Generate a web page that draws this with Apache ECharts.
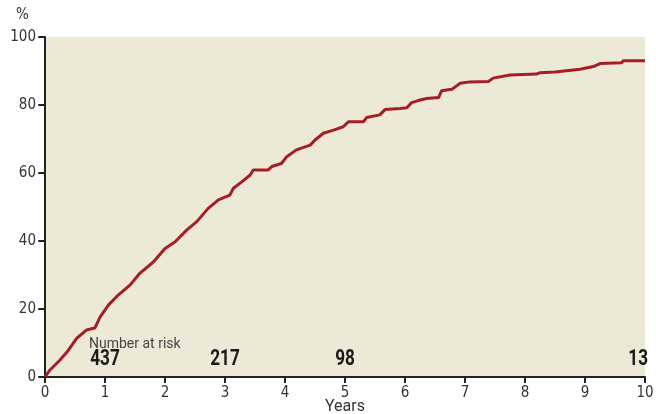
<!DOCTYPE html>
<html>
<head>
<meta charset="utf-8">
<script src="https://cdn.jsdelivr.net/npm/echarts@6/dist/echarts.min.js"></script>
<style>
  html, body { margin: 0; padding: 0; background: #fff; }
  #chart { width: 656px; height: 414px; }
</style>
</head>
<body>
<div id="chart"></div>
<script>
// curve: years, cumulative %
var years = [0, 0.08, 0.25, 0.37, 0.53, 0.69, 0.83, 0.92, 1.06, 1.22, 1.42, 1.58, 1.81, 2.0, 2.17, 2.36, 2.53,
    2.72, 2.89, 3.08, 3.14, 3.28, 3.42, 3.47, 3.72, 3.78, 3.94, 4.03, 4.19, 4.42, 4.5, 4.64, 4.81, 4.97, 5.06,
    5.31, 5.36, 5.58, 5.67, 5.92, 6.03, 6.11, 6.22, 6.36, 6.56, 6.61, 6.78, 6.92, 7.08, 7.39, 7.47, 7.75,
    8.19, 8.25, 8.5, 8.53, 8.92, 9.14, 9.25, 9.61, 9.64, 10];
var percent = [0, 2, 5, 7.4, 11.4, 13.8, 14.4, 17.7, 21.2, 24.1, 27.1, 30.5, 33.9, 37.8, 39.8, 43.2, 45.7,
    49.6, 52.1, 53.5, 55.5, 57.4, 59.4, 60.9, 60.9, 61.9, 62.8, 64.8, 66.8, 68.2, 69.7, 71.7, 72.6, 73.6, 75.1,
    75.1, 76.3, 77.1, 78.7, 79, 79.2, 80.7, 81.3, 81.9, 82.2, 84.2, 84.6, 86.4, 86.8, 86.9, 87.9, 88.8,
    89.1, 89.5, 89.7, 90.1, 90.5, 91.3, 92.2, 92.4, 93, 93];

// number at risk
var riskYears = [1, 3, 5, 10];
var riskCounts = [437, 217, 98, 13];
var riskLevel = 2;

var curve = years.map(function (t, i) { return [t, percent[i]]; });

var tickFont = "'Liberation Sans Narrow', 'DejaVu Sans Condensed', sans-serif";

var myChart = echarts.init(document.getElementById('chart'));
var option = {
    animation: false,
    grid: {
        left: 45,
        right: 11,
        top: 37,
        bottom: 37,
        outerBoundsMode: 'none',
        show: true,
        backgroundColor: '#ece9d7',
        borderWidth: 0
    },
    xAxis: {
        type: 'value',
        min: 0,
        max: 10,
        interval: 1,
        name: 'Years',
        nameLocation: 'middle',
        nameGap: 22,
        nameMoveOverlap: false,
        nameTextStyle: { fontSize: 16, color: '#333', fontFamily: 'Roboto, sans-serif' },
        axisLine: { lineStyle: { color: '#222', width: 2 } },
        axisTick: { show: true, length: 6, lineStyle: { color: '#222', width: 2 } },
        axisLabel: { fontSize: 15, color: '#333', margin: 9, fontFamily: tickFont },
        splitLine: { show: false }
    },
    yAxis: {
        type: 'value',
        min: 0,
        max: 100,
        interval: 20,
        axisLine: { show: true, lineStyle: { color: '#222', width: 2 } },
        axisTick: { show: true, length: 6, lineStyle: { color: '#222', width: 2 } },
        axisLabel: { fontSize: 15, color: '#333', margin: 9, fontFamily: tickFont },
        splitLine: { show: false }
    },
    graphic: [
        {
            type: 'text',
            left: 16,
            top: 8,
            style: { text: '%', fontSize: 15, fill: '#333', fontFamily: tickFont }
        },
        {
            type: 'text',
            left: 89,
            top: 337,
            style: { text: 'Number at risk', fontSize: 14, fill: '#444', fontFamily: 'Roboto, sans-serif' }
        }
    ],
    series: [
        {
            type: 'line',
            data: curve,
            showSymbol: false,
            symbol: 'none',
            lineStyle: { color: '#a61e25', width: 3 },
            z: 3
        }
    ]
};
myChart.setOption(option);

// counts at risk: placed through the axes, squeezed to look condensed
var riskText = riskYears.map(function (t, i) {
    var p = myChart.convertToPixel({ gridIndex: 0 }, [t, riskLevel]);
    var last = i === riskYears.length - 1;
    return {
        type: 'text',
        x: last ? p[0] + 3 : p[0],
        y: p[1],
        scaleX: 0.78,
        z: 10,
        style: {
            text: String(riskCounts[i]),
            align: last ? 'right' : 'center',
            verticalAlign: 'bottom',
            fontSize: 22,
            fontWeight: 'bold',
            fill: '#1a1a1a',
            fontFamily: 'Roboto, sans-serif'
        }
    };
});

// tick marks drawn outward from both axes at the axis values
var xTickVals = [0, 1, 2, 3, 4, 5, 6, 7, 8, 9, 10];
var yTickVals = [0, 20, 40, 60, 80, 100];
var tickMarks = [];
xTickVals.forEach(function (v) {
    var p = myChart.convertToPixel({ gridIndex: 0 }, [v, 0]);
    tickMarks.push({ type: 'line', z: 9, shape: { x1: p[0], y1: p[1], x2: p[0], y2: p[1] + 6 },
        style: { stroke: '#222', lineWidth: 1.5 } });
});
yTickVals.forEach(function (v) {
    var p = myChart.convertToPixel({ gridIndex: 0 }, [0, v]);
    tickMarks.push({ type: 'line', z: 9, shape: { x1: p[0] - 7, y1: p[1], x2: p[0], y2: p[1] },
        style: { stroke: '#222', lineWidth: 1.5 } });
});
myChart.setOption({ graphic: option.graphic.concat(riskText, tickMarks) });
</script>
</body>
</html>
